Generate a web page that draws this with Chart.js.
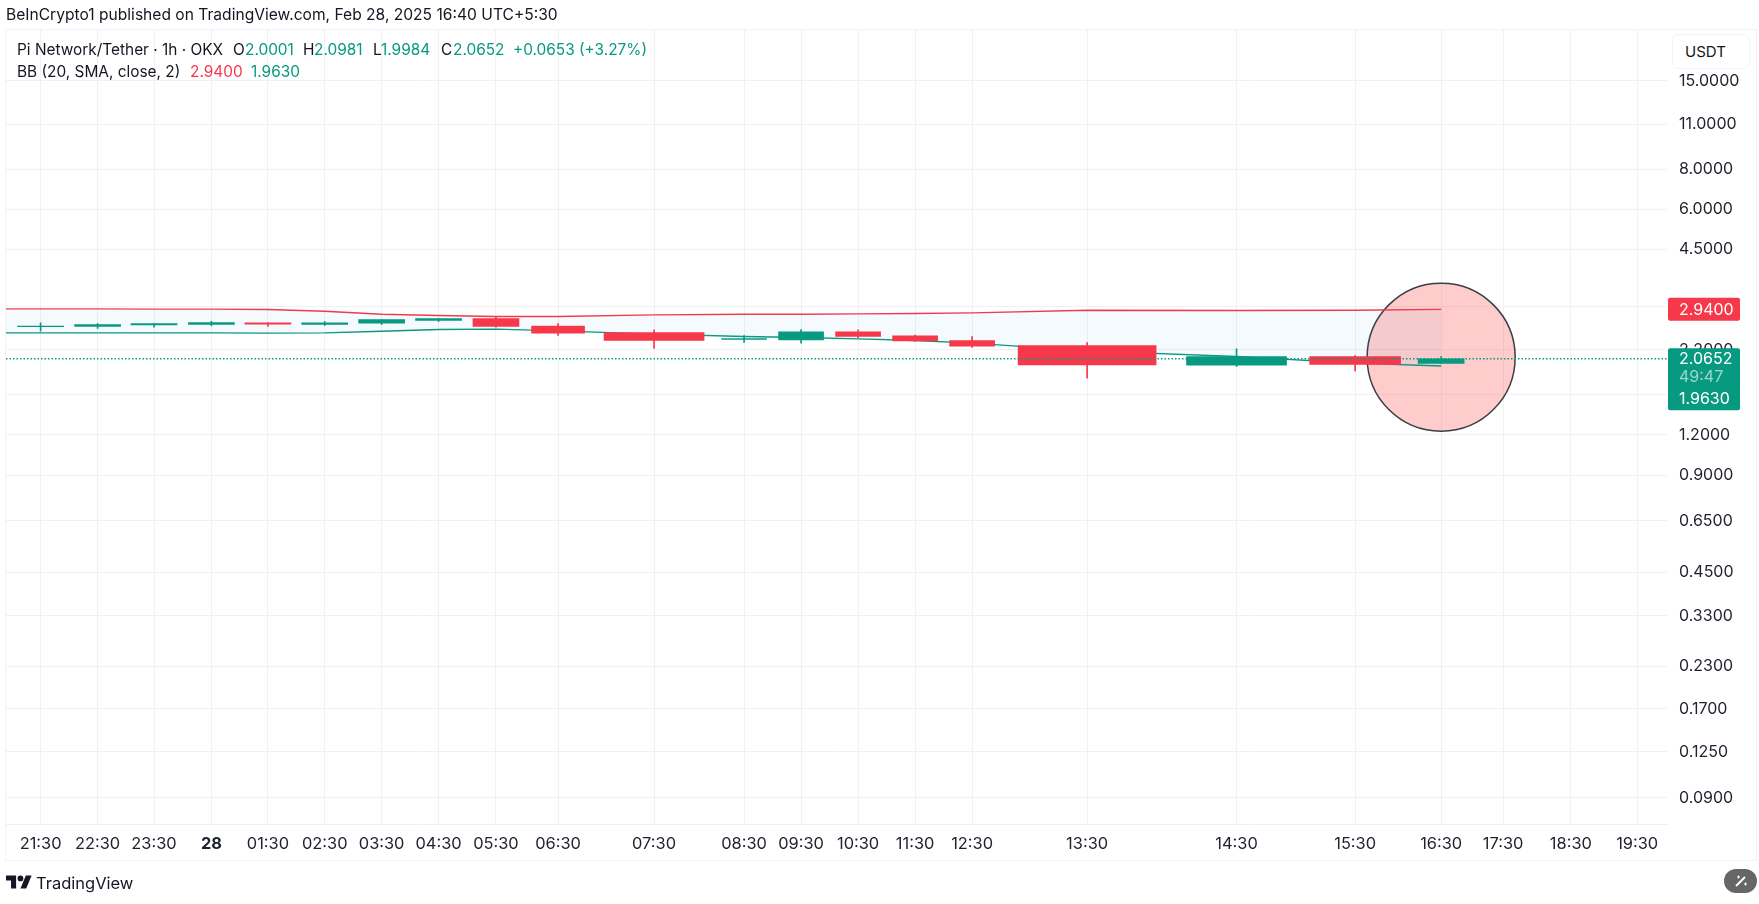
<!DOCTYPE html>
<html lang="en">
<head>
<meta charset="utf-8">
<title>Pi Network/Tether 1h</title>
<script src="https://cdn.jsdelivr.net/npm/chart.js"></script>
<style>
  html, body { margin: 0; padding: 0; background: #fff; width: 1759px; height: 904px; overflow: hidden; }
  body { position: relative; font-family: Inter, "Noto Sans", sans-serif; color: #131722; }
  canvas { position: absolute; left: 0; top: 0; }
  .frame { position: absolute; left: 5px; top: 29px; width: 1750px; height: 830px; border: 1px solid #f0f3fa; }
  .t { position: absolute; white-space: nowrap; font-size: 15.4px; line-height: 20px; }
  .up { color: #089981; }
  .down { color: #f7384a; }
  .usdt { position: absolute; left: 1672px; top: 34px; width: 76px; height: 33px; border: 1px solid #f0f3fa;
          border-radius: 6px; background: #fff; font-size: 15px; line-height: 33px; text-indent: 12px; }
  .wand { position: absolute; left: 1724px; top: 869px; width: 33px; height: 24px; border-radius: 12px; background: #666; }
</style>
</head>
<body>
<div class="frame"></div>
<canvas id="priceChart" width="1759" height="904"></canvas>

<div class="t" style="left:6px;top:5px;font-size:15.6px">BeInCrypto1 published on TradingView.com, Feb 28, 2025 16:40 UTC+5:30</div>

<div class="t" style="left:17px;top:40px">Pi Network/Tether · 1h · OKX</div>
<div class="t" style="left:233px;top:40px">O</div><div class="t up" style="left:245px;top:40px">2.0001</div>
<div class="t" style="left:303px;top:40px">H</div><div class="t up" style="left:314px;top:40px">2.0981</div>
<div class="t" style="left:373px;top:40px">L</div><div class="t up" style="left:381px;top:40px">1.9984</div>
<div class="t" style="left:441px;top:40px">C</div><div class="t up" style="left:453px;top:40px">2.0652</div>
<div class="t up" style="left:513px;top:40px">+0.0653 (+3.27%)</div>
<div class="t" style="left:17px;top:62px">BB (20, SMA, close, 2)</div>
<div class="t down" style="left:190px;top:62px">2.9400</div>
<div class="t up" style="left:251px;top:62px">1.9630</div>

<div class="usdt">USDT</div>

<svg style="position:absolute;left:6px;top:875px" width="26" height="14" viewBox="0 4 36 18">
  <path fill="#131722" d="M14 22H7V11H0V4h14v18zM28 22h-8l7.5-18h8L28 22z"/>
  <circle fill="#131722" cx="20" cy="8" r="4"/>
</svg>
<div class="t" style="left:36px;top:873px;font-size:16.5px">TradingView</div>

<div class="wand">
  <svg width="33" height="24" viewBox="0 0 33 24">
    <path stroke="#fff" stroke-width="2" d="M12 17 L21 8"/>
    <path stroke="#fff" stroke-width="1" d="M13 8h3M14.5 6.5v3M20 15h3M21.5 13.5v3"/>
  </svg>
</div>

<script>
// hour labels along the time axis, index 0 = 21:30
const hourLabels = ['21:30', '22:30', '23:30', '28', '01:30', '02:30', '03:30', '04:30', '05:30', '06:30', '07:30',
  '08:30', '09:30', '10:30', '11:30', '12:30', '13:30', '14:30', '15:30', '16:30', '17:30', '18:30', '19:30'];

// OHLC, one value per hour from 21:30 up to 16:30
const candleOpen = [2.5985, 2.6009, 2.6319, 2.6382, 2.6698, 2.6382, 2.6635, 2.7145, 2.7537, 2.6071,
  2.4919, 2.3720, 2.3649, 2.5038, 2.4334, 2.3536, 2.2713, 1.9739, 2.0998, 2.0001];
const candleHigh = [2.6698, 2.6571, 2.6571, 2.7018, 2.6698, 2.6954, 2.7340, 2.7537, 2.7866, 2.6571,
  2.5398, 2.4392, 2.5458, 2.5398, 2.4450, 2.4218, 2.3204, 2.2179, 2.1150, 2.0981];
const candleLow = [2.5157, 2.5641, 2.5885, 2.6133, 2.6009, 2.6195, 2.6382, 2.6954, 2.5885, 2.4392,
  2.2232, 2.3204, 2.3093, 2.3990, 2.3370, 2.2391, 1.7992, 1.9553, 1.8958, 1.9984];
const candleClose = [2.6070, 2.6382, 2.6571, 2.6762, 2.6445, 2.6698, 2.7340, 2.7537, 2.6009, 2.4801,
  2.3536, 2.3860, 2.5038, 2.4218, 2.3481, 2.2604, 1.9787, 2.0998, 1.9834, 2.0652];

// Bollinger bands, first value is the hour before the visible range (20:30)
const bandUpper = [2.9502, 2.9502, 2.9502, 2.9434, 2.9434, 2.9363, 2.9014, 2.8400, 2.8133, 2.7934, 2.7934,
  2.8265, 2.8400, 2.8400, 2.8469, 2.8535, 2.8672, 2.9223, 2.9153, 2.9223, 2.9400];
const bandLower = [2.4859, 2.4859, 2.4859, 2.4859, 2.4859, 2.4801, 2.4859, 2.5157, 2.5458, 2.5520, 2.5218,
  2.4626, 2.4218, 2.4047, 2.3819, 2.3536, 2.3093, 2.1864, 2.0998, 2.0024, 1.9630];

const yTickValues = [15, 11, 8, 6, 4.5, 3, 2.2, 1.6, 1.2, 0.9, 0.65, 0.45, 0.33, 0.23, 0.17, 0.125, 0.09];

const lastClose = 2.0652;
const upperLast = 2.94;
const lowerLast = 1.963;
const countdown = '49:47';
const circleCenter = { hour: 19, price: 2.089 };

// layout: the hour slots in the picture are not evenly wide
const slotGaps = [57, 56.4, 57.4, 56.5, 56.8, 56.9, 56.9, 57.4, 62.1, 96, 90, 57, 57, 57, 57, 115, 149.4, 118.6, 86, 62, 67.7, 66.3];
const bodyThickness = [46, 46, 46, 46, 46, 46, 46, 46, 46, 53, 100, 45, 45, 45, 45, 45, 138, 100, 91, 46];

const GREEN = '#089981';
const RED = '#f7384a';
const GRID = '#f0f1f4';
const TICK_COLOR = '#1e222d';
const X_MIN = -0.607;
const X_MAX = 22.45;

// cumulative position of each hour, used to stretch the time axis
const slotPos = [0];
slotGaps.forEach(function (g, i) { slotPos.push(slotPos[i] + g); });

function warp(v) {
  const i = Math.max(0, Math.min(slotGaps.length - 1, Math.floor(v)));
  return slotPos[i] + (v - i) * slotGaps[i];
}

class WarpedTimeScale extends Chart.LinearScale {
  getPixelForValue(value) {
    return this.getPixelForDecimal((warp(value) - warp(X_MIN)) / (warp(X_MAX) - warp(X_MIN)));
  }
}
WarpedTimeScale.id = 'warpedTime';
WarpedTimeScale.defaults = Chart.LinearScale.defaults;
Chart.register(WarpedTimeScale);

// the axes keep their exact box, no extra room for the outer tick labels
function noMargins(s) {
  s.paddingLeft = s.paddingRight = s.paddingTop = s.paddingBottom = 0;
}

const isUp = candleOpen.map(function (o, i) { return candleClose[i] >= o; });
const candleColor = isUp.map(function (u) { return u ? GREEN : RED; });

const datasets = [];

datasets.push({
  type: 'bubble',
  order: 9,
  data: [{ x: circleCenter.hour, y: circleCenter.price, r: 74 }],
  backgroundColor: 'rgba(255,0,0,0.2)',
  borderColor: '#3c3c46',
  borderWidth: 1.5
});

datasets.push({
  type: 'line',
  order: 8,
  data: bandUpper.map(function (v, i) { return { x: i - 1, y: v }; }),
  borderColor: RED,
  borderWidth: 1.4,
  pointRadius: 0,
  tension: 0,
  fill: false
});

datasets.push({
  type: 'line',
  order: 7,
  data: bandLower.map(function (v, i) { return { x: i - 1, y: v }; }),
  borderColor: GREEN,
  borderWidth: 1.4,
  pointRadius: 0,
  tension: 0,
  fill: { target: 1 },
  backgroundColor: 'rgba(33,150,243,0.05)'
});

datasets.push({
  type: 'bar',
  order: 6,
  grouped: false,
  barThickness: 1,
  data: candleHigh.map(function (h, i) { return { x: i, y: [candleLow[i], h] }; }),
  backgroundColor: candleColor
});

candleOpen.forEach(function (o, i) {
  datasets.push({
    type: 'bar',
    order: 5,
    grouped: false,
    barThickness: bodyThickness[i],
    data: [{ x: i, y: [o, candleClose[i]] }],
    backgroundColor: candleColor[i]
  });
});

datasets.push({
  type: 'line',
  order: 1,
  data: [{ x: X_MIN, y: lastClose }, { x: X_MAX, y: lastClose }],
  borderColor: GREEN,
  borderWidth: 1.5,
  borderDash: [1.5, 2],
  pointRadius: 0,
  fill: false
});

// price badges on top of the axis
const badges = {
  id: 'badges',
  afterDraw: function (chart) {
    const ctx = chart.ctx;
    const y = chart.scales.y;
    const left = 1668, width = 72, textX = 1679;
    ctx.save();
    ctx.font = '16px Inter';
    ctx.textBaseline = 'middle';

    const upperY = y.getPixelForValue(upperLast);
    ctx.fillStyle = RED;
    ctx.beginPath();
    ctx.roundRect(left, upperY - 11.5, width, 23, 2);
    ctx.fill();
    ctx.fillStyle = '#fff';
    ctx.fillText(upperLast.toFixed(4), textX, upperY + 1);

    const closeY = y.getPixelForValue(lastClose);
    ctx.fillStyle = GREEN;
    ctx.beginPath();
    ctx.roundRect(left, closeY - 10.5, width, 62, 2);
    ctx.fill();
    ctx.fillStyle = '#fff';
    ctx.fillText(lastClose.toFixed(4), textX, closeY + 0.5);
    ctx.fillStyle = 'rgba(255,255,255,0.6)';
    ctx.fillText(countdown, textX, closeY + 18.5);
    ctx.fillStyle = '#fff';
    ctx.fillText(lowerLast.toFixed(4), textX, closeY + 40.5);
    ctx.restore();
  }
};

new Chart(document.getElementById('priceChart'), {
  type: 'bar',
  data: { datasets: datasets },
  plugins: [badges],
  options: {
    responsive: false,
    animation: false,
    events: [],
    // autoPadding off, otherwise the circle's radius is reserved around the plot
    layout: { autoPadding: false, padding: { left: 6, top: 30, right: 0, bottom: 0 } },
    plugins: { legend: { display: false }, tooltip: { enabled: false } },
    scales: {
      x: {
        type: 'warpedTime',
        min: X_MIN,
        max: X_MAX,
        offset: false,
        afterBuildTicks: function (s) { s.ticks = hourLabels.map(function (l, i) { return { value: i }; }); },
        afterFit: function (s) { s.height = 80; noMargins(s); },
        grid: { color: GRID, offset: false, drawTicks: false },
        border: { color: GRID },
        ticks: {
          autoSkip: false,
          maxRotation: 0,
          padding: 10,
          color: TICK_COLOR,
          font: function (c) {
            const bold = c.tick && hourLabels[c.tick.value] === '28';
            return { family: 'Inter', size: 16.4, weight: bold ? 'bold' : 'normal' };
          },
          callback: function (v) { return hourLabels[v]; }
        }
      },
      y: {
        type: 'logarithmic',
        position: 'right',
        min: 0.0747,
        max: 21.58,
        afterBuildTicks: function (s) { s.ticks = yTickValues.map(function (v) { return { value: v }; }); },
        afterFit: function (s) { s.width = 92; noMargins(s); },
        grid: { color: GRID, drawTicks: false },
        border: { display: false },
        ticks: {
          autoSkip: false,
          padding: 12,
          color: TICK_COLOR,
          font: { family: 'Inter', size: 16 },
          callback: function (v) { return Number(v).toFixed(4); }
        }
      }
    }
  }
});
</script>
</body>
</html>
